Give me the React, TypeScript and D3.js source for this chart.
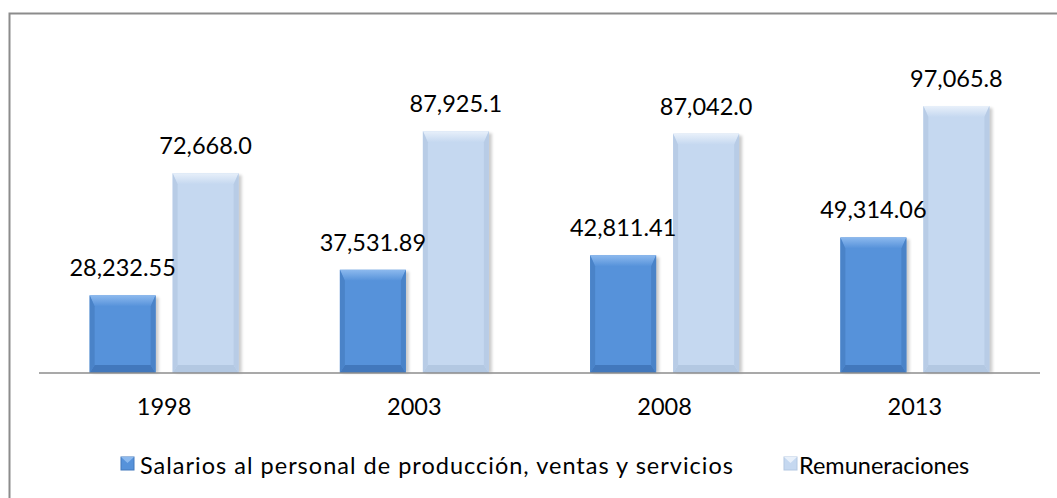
import React from "react";
import * as d3 from "d3";

// chart values
const years = ["1998", "2003", "2008", "2013"];
const seriesNames = [
  "Salarios al personal de producción, ventas y servicios",
  "Remuneraciones",
];
const salarios = [28232.55, 37531.89, 42811.41, 49314.06];
const remuneraciones = [72668.0, 87925.1, 87042.0, 97065.8];
const salariosLabels = ["28,232.55", "37,531.89", "42,811.41", "49,314.06"];
const remuneracionesLabels = ["72,668.0", "87,925.1", "87,042.0", "97,065.8"];

const W = 1057;
const H = 498;
const font = "Lato, 'Open Sans', sans-serif";

// face / top / bottom / side colours for the bevelled bars
const palettes = [
  { face: "#5692DA", top: "#8CB9EE", bottom: "#4278BC", side: "#4A83C8" },
  { face: "#C5D8F0", top: "#E8F0FA", bottom: "#B3C8E2", side: "#B8CCE6" },
];

const BevelBar = ({ x, y, w, h, p, id }) => {
  const t = Math.min(11, h / 3);
  const b = Math.min(8, h / 3);
  const s = 5;
  const pts = (arr) => arr.map((d) => d.join(",")).join(" ");
  return (
    <g>
      <rect x={x + 3} y={y + 2} width={w} height={h - 2} fill="#000" opacity={0.2} filter="url(#blur)" />
      <rect x={x} y={y} width={w} height={h} fill={p.face} />
      <polygon points={pts([[x, y], [x + w, y], [x + w - s, y + t], [x + s, y + t]])} fill={`url(#top${id})`} />
      <polygon points={pts([[x, y + h], [x + w, y + h], [x + w - s, y + h - b], [x + s, y + h - b]])} fill={p.bottom} />
      <polygon points={pts([[x, y], [x + s, y + t], [x + s, y + h - b], [x, y + h]])} fill={p.side} />
      <polygon points={pts([[x + w, y], [x + w - s, y + t], [x + w - s, y + h - b], [x + w, y + h]])} fill={p.side} />
    </g>
  );
};

export default function App() {
  const baseline = 373;
  const x0 = d3.scaleBand().domain(years).range([39, 1040]);
  const x1 = d3
    .scaleBand()
    .domain(seriesNames)
    .range([0, x0.bandwidth()])
    .paddingInner(0.205)
    .paddingOuter(0.61);
  const y = d3.scaleLinear().domain([0, 120000]).range([baseline, 43]);

  const series = [
    { name: seriesNames[0], values: salarios, labels: salariosLabels },
    { name: seriesNames[1], values: remuneraciones, labels: remuneracionesLabels },
  ];

  return (
    <svg
      width={W}
      height={H}
      style={{ position: "absolute", left: 0, top: 0, background: "#fff" }}
      fontFamily={font}
    >
      <defs>
        <filter id="blur" x="-20%" y="-20%" width="140%" height="140%">
          <feGaussianBlur stdDeviation="1.5" />
        </filter>
        {palettes.map((p, i) => (
          <linearGradient key={i} id={`top${i}`} x1="0" x2="0" y1="0" y2="1">
            <stop offset="0%" stopColor={p.top} />
            <stop offset="100%" stopColor={p.face} />
          </linearGradient>
        ))}
      </defs>
      <rect x={0} y={0} width={W} height={H} fill="#fff" />
      {/* chart border, runs off the right and bottom */}
      <rect x={9.5} y={13.5} width={W + 10} height={H + 10} fill="none" stroke="#8c8c8c" strokeWidth={2} />

      {series.map((s, si) =>
        years.map((yr, i) => {
          const bx = x0(yr) + x1(s.name);
          const by = y(s.values[i]);
          return (
            <BevelBar key={yr + si} id={si} x={bx} y={by} w={x1.bandwidth()} h={baseline - by} p={palettes[si]} />
          );
        })
      )}

      <line x1={39} x2={1040} y1={baseline} y2={baseline} stroke="#8c8c8c" strokeWidth={1.5} />

      {/* value labels on top of all bars */}
      {series.map((s, si) =>
        years.map((yr, i) => (
          <text
            key={"l" + yr + si}
            x={x0(yr) + x1(s.name) + x1.bandwidth() / 2}
            y={y(s.values[i]) - 19}
            textAnchor="middle"
            fontSize={23.5}
            fill="#000"
          >
            {s.labels[i]}
          </text>
        ))
      )}

      {years.map((yr) => (
        <text key={yr} x={x0(yr) + x0.bandwidth() / 2} y={415} textAnchor="middle" fontSize={23.5} fill="#000">
          {yr}
        </text>
      ))}

      {/* legend */}
      <g>
        <rect x={121} y={457} width={13} height={13} fill={palettes[0].face} stroke={palettes[0].bottom} strokeWidth={1} />
        <polygon points="121,457 134,457 127.5,463" fill={palettes[0].top} />
        <text x={140} y={474} fontSize={23.5} fill="#000" textLength={593} lengthAdjust="spacing">
          {seriesNames[0]}
        </text>
        <rect x={784} y={457} width={13} height={13} fill={palettes[1].face} stroke={palettes[1].bottom} strokeWidth={1} />
        <polygon points="784,457 797,457 790.5,463" fill={palettes[1].top} />
        <text x={799} y={474} fontSize={23.5} fill="#000">{seriesNames[1]}</text>
      </g>
    </svg>
  );
}
